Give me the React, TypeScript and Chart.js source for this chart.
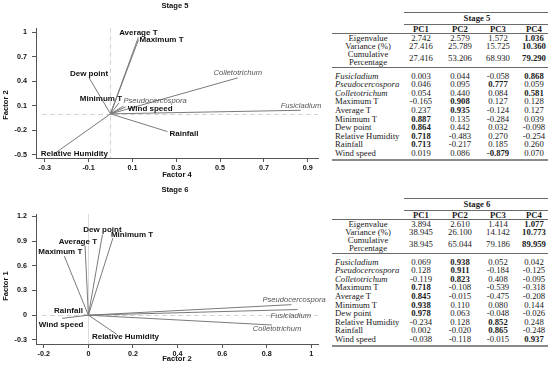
import React, { useEffect, useRef } from 'react';
import { Chart, registerables } from 'chart.js';

Chart.register(...registerables);

// ---------------- DATA ----------------
const variables = ['Fusicladium', 'Pseudocercospora', 'Colletotrichum', 'Maximum T', 'Average T', 'Minimum T', 'Dew point', 'Relative Humidity', 'Rainfall', 'Wind speed'];
const pathogenCount = 3;
const pcHeaders = ['PC1', 'PC2', 'PC3', 'PC4'];
const summaryBoldColumn = 3;

// Stage 5
const eigen5 = [2.742, 2.579, 1.572, 1.036];
const variance5 = [27.416, 25.789, 15.725, 10.36];
const cumulative5 = [27.416, 53.206, 68.93, 79.29];
const pc1_5 = [0.003, 0.046, 0.054, -0.165, 0.237, 0.887, 0.864, 0.718, 0.713, 0.019];
const pc2_5 = [0.044, 0.095, 0.44, 0.908, 0.935, 0.135, 0.442, -0.483, -0.217, 0.086];
const pc3_5 = [-0.058, 0.777, 0.084, 0.127, -0.124, -0.284, 0.032, 0.27, 0.185, -0.879];
const pc4_5 = [0.868, 0.059, 0.581, 0.128, 0.127, 0.039, -0.098, -0.254, 0.26, 0.07];

// Stage 6
const eigen6 = [3.894, 2.61, 1.414, 1.077];
const variance6 = [38.945, 26.1, 14.142, 10.773];
const cumulative6 = [38.945, 65.044, 79.186, 89.959];
const pc1_6 = [0.069, 0.128, -0.119, 0.718, 0.845, 0.938, 0.978, -0.234, 0.002, -0.038];
const pc2_6 = [0.938, 0.911, 0.823, -0.108, -0.015, 0.11, 0.063, 0.128, -0.02, -0.118];
const pc3_6 = [0.052, -0.184, 0.408, -0.539, -0.475, 0.08, -0.048, 0.852, 0.865, -0.015];
const pc4_6 = [0.042, -0.125, -0.095, -0.318, -0.208, 0.144, -0.026, 0.248, -0.248, 0.937];

// Axis ticks
const xTicks5 = [-0.3, -0.1, 0.1, 0.3, 0.5, 0.7, 0.9];
const yTicks5 = [-0.5, -0.2, 0.1, 0.4, 0.7, 1];
const xTicks6 = [-0.2, 0, 0.2, 0.4, 0.6, 0.8, 1];
const yTicks6 = [-0.3, 0, 0.3, 0.6, 0.9, 1.2];

// ---------------- STYLE / PLACEMENT ----------------
// [textAlign, dx, dy] relative to vector end point
const placement5: [CanvasTextAlign, number, number][] = [
  ['left', -20, -4], // Fusicladium
  ['left', 0, -5], // Pseudocercospora
  ['center', 0, -5], // Colletotrichum
  ['left', 1, 0], // Maximum T
  ['center', 0, -5], // Average T
  ['right', 3, -4], // Minimum T
  ['center', 0, -4], // Dew point
  ['left', -14, 0], // Relative Humidity
  ['left', 2, 2], // Rainfall
  ['left', 2, 2], // Wind speed
];
const placement6: [CanvasTextAlign, number, number][] = [
  ['left', -27, 6], // Fusicladium
  ['left', -29, -5], // Pseudocercospora
  ['left', -19, 4], // Colletotrichum
  ['center', -4, -4], // Maximum T
  ['right', 12, -4], // Average T
  ['left', -2, -3], // Minimum T
  ['center', 0, -5], // Dew point
  ['left', -25, 2], // Relative Humidity
  ['right', -1, -4], // Rainfall
  ['center', -1, 6], // Wind speed
];

const SANS = '"Liberation Sans", Arial, sans-serif';
const SERIF = '"Liberation Serif", "Times New Roman", serif';

const fmtTick = (v: number) => {
  const r = Math.round(v * 10) / 10;
  return r === 0 ? '0' : String(r);
};

const vecLabelPlugin = {
  id: 'vecLabels',
  afterDatasetsDraw(chart: any, _args: any, opts: any) {
    const { ctx } = chart;
    const xs = chart.scales.x;
    const ys = chart.scales.y;
    ctx.save();
    chart.data.datasets.forEach((ds: any, i: number) => {
      const p = ds.data[1];
      const px = xs.getPixelForValue(p.x);
      const py = ys.getPixelForValue(p.y);
      const [align, dx, dy] = opts.placement[i];
      const italic = i < pathogenCount;
      ctx.font = italic ? `italic 7.6px ${SANS}` : `bold 8px ${SANS}`;
      ctx.fillStyle = italic ? '#555' : '#111';
      ctx.textAlign = align;
      ctx.textBaseline = 'middle';
      ctx.fillText(ds.label, px + dx, py + dy);
    });
    ctx.restore();
  },
};

const crossPlugin = {
  id: 'crossLines',
  beforeDatasetsDraw(chart: any, _args: any, opts: any) {
    const { ctx, chartArea } = chart;
    const x0 = chart.scales.x.getPixelForValue(0);
    const y0 = chart.scales.y.getPixelForValue(0);
    ctx.save();
    ctx.strokeStyle = '#d4d4d4';
    ctx.lineWidth = 1;
    ctx.setLineDash([5, 3]);
    ctx.beginPath();
    ctx.moveTo(chartArea.left + 6, Math.round(y0) + 0.5);
    ctx.lineTo(chartArea.right, Math.round(y0) + 0.5);
    ctx.stroke();
    ctx.setLineDash(opts.solidVertical ? [] : [5, 3]);
    ctx.strokeStyle = opts.solidVertical ? '#dcdcdc' : '#d4d4d4';
    ctx.beginPath();
    ctx.moveTo(Math.round(x0) + 0.5, chartArea.top);
    ctx.lineTo(Math.round(x0) + 0.5, chartArea.bottom);
    ctx.stroke();
    ctx.restore();
  },
};

const titlePlugin = {
  id: 'titles',
  afterDraw(chart: any, _args: any, opts: any) {
    const { ctx } = chart;
    ctx.save();
    ctx.fillStyle = '#111';
    ctx.font = `bold 7.6px ${SANS}`;
    ctx.textAlign = 'center';
    ctx.textBaseline = 'middle';
    ctx.fillText(opts.title, 175, opts.titleY);
    ctx.fillText(opts.xTitle, 177, opts.xTitleY);
    ctx.translate(6, opts.yTitleY);
    ctx.rotate(-Math.PI / 2);
    ctx.fillText(opts.yTitle, 0, 0);
    ctx.restore();
  },
};

interface BiplotProps {
  top: number;
  title: string;
  xTitle: string;
  yTitle: string;
  xs: number[];
  ys: number[];
  xMin: number;
  xMax: number;
  yMin: number;
  yMax: number;
  xTicks: number[];
  yTicks: number[];
  placement: [CanvasTextAlign, number, number][];
  titleY: number;
  xTitleY: number;
  yTitleY: number;
  solidVertical: boolean;
}

function Biplot(p: BiplotProps) {
  const ref = useRef<HTMLCanvasElement>(null);
  useEffect(() => {
    if (!ref.current) return;
    const tickFont = { family: SANS, size: 7.2, weight: 'bold' as const };
    const chart = new Chart(ref.current, {
      type: 'scatter',
      data: {
        datasets: variables.map((name, i) => ({
          label: name,
          data: [
            { x: 0, y: 0 },
            { x: p.xs[i], y: p.ys[i] },
          ],
          showLine: true,
          borderColor: '#7a7a7a',
          borderWidth: 1,
          pointRadius: 0,
          pointHoverRadius: 0,
        })),
      },
      options: {
        animation: false,
        responsive: false,
        maintainAspectRatio: false,
        layout: { padding: { left: 0, right: 12, top: 28, bottom: 0 } },
        plugins: {
          legend: { display: false },
          tooltip: { enabled: false },
          crossLines: { solidVertical: p.solidVertical },
          vecLabels: { placement: p.placement },
          titles: { title: p.title, xTitle: p.xTitle, yTitle: p.yTitle, titleY: p.titleY, xTitleY: p.xTitleY, yTitleY: p.yTitleY },
        } as any,
        scales: {
          x: {
            type: 'linear',
            min: p.xMin,
            max: p.xMax,
            afterBuildTicks: (a: any) => {
              a.ticks = p.xTicks.map((v) => ({ value: v }));
            },
            afterFit: (a: any) => {
              a.height = 22;
            },
            grid: { drawOnChartArea: false, drawTicks: true, tickLength: 4, color: '#555' },
            border: { display: true, color: '#555', width: 1 },
            ticks: { font: tickFont, color: '#111', padding: 2, maxRotation: 0, autoSkip: false, callback: (v: any) => fmtTick(Number(v)) },
          },
          y: {
            type: 'linear',
            min: p.yMin,
            max: p.yMax,
            afterBuildTicks: (a: any) => {
              a.ticks = p.yTicks.map((v) => ({ value: v }));
            },
            afterFit: (a: any) => {
              a.width = 36;
            },
            grid: { drawOnChartArea: false, drawTicks: true, tickLength: 4, color: '#555' },
            border: { display: true, color: '#555', width: 1 },
            ticks: { font: tickFont, color: '#111', padding: 5, autoSkip: false, callback: (v: any) => fmtTick(Number(v)) },
          },
        },
      },
      plugins: [crossPlugin, vecLabelPlugin, titlePlugin],
    });
    return () => chart.destroy();
  }, []);
  return <canvas ref={ref} width={330} height={180} style={{ position: 'absolute', left: 0, top: p.top, width: 330, height: 180 }} />;
}

interface TableProps {
  top: number;
  stage: string;
  eigen: number[];
  variance: number[];
  cumulative: number[];
  pcs: number[][];
}

const colX = [421, 460, 498, 534];

function LoadingTable({ top, stage, eigen, variance, cumulative, pcs }: TableProps) {
  const els: React.ReactNode[] = [];
  let k = 0;
  const line = (y: number, x1: number, x2: number, h = 1, color = '#6a6a6a') => {
    els.push(<div key={k++} style={{ position: 'absolute', left: x1, top: top + y, width: x2 - x1, height: h, background: color }} />);
  };
  const text = (s: string, x: number, y: number, align: 'center' | 'left', opts: { bold?: boolean; italic?: boolean } = {}) => {
    els.push(
      <div
        key={k++}
        style={{
          position: 'absolute',
          left: x,
          top: top + y,
          transform: align === 'center' ? 'translate(-50%, -50%)' : 'translateY(-50%)',
          whiteSpace: 'nowrap',
          lineHeight: 1,
          fontFamily: SERIF,
          fontSize: 8.7,
          fontWeight: opts.bold ? 'bold' : 'normal',
          fontStyle: opts.italic ? 'italic' : 'normal',
          color: '#1a1a1a',
        }}
      >
        {s}
      </div>
    );
  };
  line(12, 404, 548);
  text(stage, 477, 18, 'center', { bold: true });
  line(24, 404, 548);
  pcHeaders.forEach((h, j) => text(h, colX[j], 29, 'center', { bold: true }));
  line(33, 332, 548);
  text('Eigenvalue', 368, 38, 'center');
  text('Variance (%)', 368, 46, 'center');
  text('Cumulative', 368, 54, 'center');
  text('Percentage', 368, 62, 'center');
  [eigen, variance, cumulative].forEach((row, r) => {
    const y = r === 2 ? 58 : 38 + r * 8;
    row.forEach((v, j) => text(v.toFixed(3), colX[j], y, 'center', { bold: j === summaryBoldColumn }));
  });
  line(67, 332, 548);
  variables.forEach((name, i) => {
    const y = 75.5 + i * 8.6;
    text(name, 335, y, 'left', { italic: i < pathogenCount });
    const rowVals = pcs.map((pc) => pc[i]);
    let maxJ = 0;
    rowVals.forEach((v, j) => {
      if (Math.abs(v) > Math.abs(rowVals[maxJ])) maxJ = j;
    });
    rowVals.forEach((v, j) => text(v.toFixed(3), colX[j], y, 'center', { bold: j === maxJ }));
  });
  line(159, 332, 548, 2, '#8a8a8a');
  return <>{els}</>;
}

export default function App() {
  return (
    <div style={{ position: 'fixed', left: 0, top: 0, width: 550, height: 365, background: '#fff', overflow: 'hidden' }}>
      <Biplot
        top={0}
        title="Stage 5"
        xTitle="Factor 4"
        yTitle="Factor 2"
        xs={pc4_5}
        ys={pc2_5}
        xMin={-0.34}
        xMax={0.947}
        yMin={-0.54}
        yMax={1.05}
        xTicks={xTicks5}
        yTicks={yTicks5}
        placement={placement5}
        titleY={6}
        xTitleY={175}
        yTitleY={105}
        solidVertical={false}
      />
      <Biplot
        top={186}
        title="Stage 6"
        xTitle="Factor 2"
        yTitle="Factor 1"
        xs={pc2_6}
        ys={pc1_6}
        xMin={-0.235}
        xMax={1.03}
        yMin={-0.35}
        yMax={1.23}
        xTicks={xTicks6}
        yTicks={yTicks6}
        placement={placement6}
        titleY={4}
        xTitleY={173}
        yTitleY={100}
        solidVertical={true}
      />
      <LoadingTable top={0} stage="Stage 5" eigen={eigen5} variance={variance5} cumulative={cumulative5} pcs={[pc1_5, pc2_5, pc3_5, pc4_5]} />
      <LoadingTable top={186} stage="Stage 6" eigen={eigen6} variance={variance6} cumulative={cumulative6} pcs={[pc1_6, pc2_6, pc3_6, pc4_6]} />
    </div>
  );
}
